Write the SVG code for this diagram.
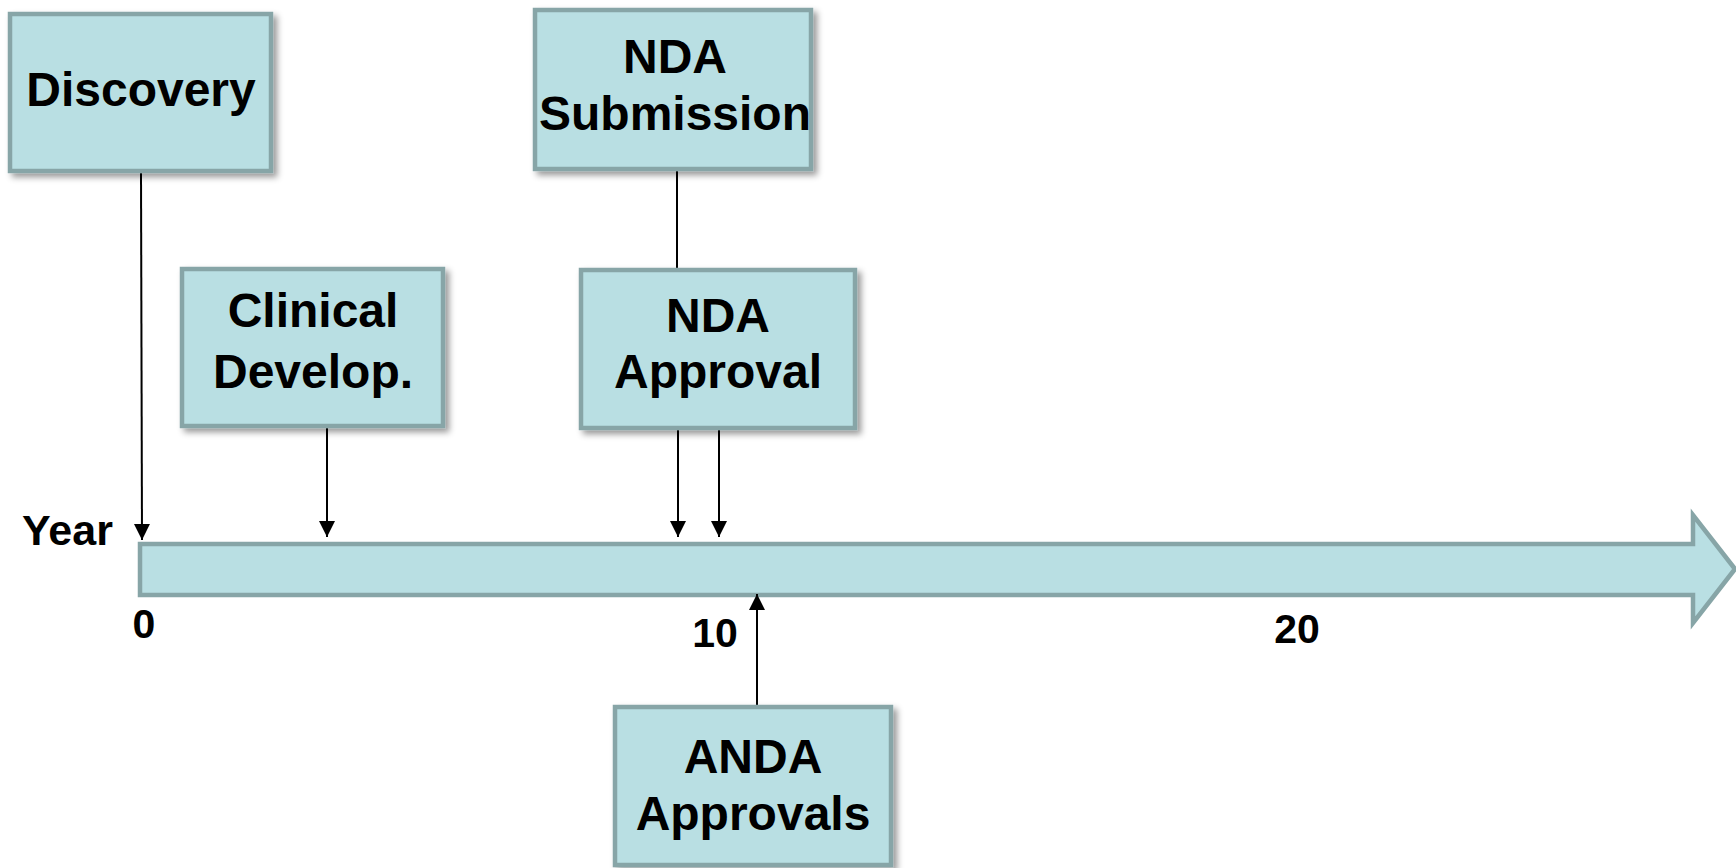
<svg xmlns="http://www.w3.org/2000/svg" width="1736" height="868" viewBox="0 0 1736 868">
<defs>
<style>
.box{fill:#B9DFE3;stroke:#87A5A7;stroke-width:4.5;filter:url(#sh);}
.bar{fill:#B9DFE3;stroke:#87A5A7;stroke-width:4.5;}
.t{font-family:"Liberation Sans",Arial,sans-serif;font-weight:bold;font-size:48px;fill:#000;text-anchor:middle;}
.n{font-family:"Liberation Sans",Arial,sans-serif;font-weight:bold;font-size:41px;fill:#000;}
.c{stroke:#000;stroke-width:2;fill:none;}
</style>
<filter id="sh" x="-10%" y="-10%" width="130%" height="130%">
<feDropShadow dx="4" dy="4" stdDeviation="3" flood-color="#000" flood-opacity="0.4"/>
</filter>
<marker id="ah" markerUnits="userSpaceOnUse" markerWidth="16" markerHeight="16" refX="16" refY="8" orient="auto">
<path d="M0,0 L16,8 L0,16 Z" fill="#000"/>
</marker>
</defs>
<g id="timeline">
<polygon class="bar" points="140,544 1693,544 1693,515 1735,569 1693,623 1693,595 140,595"/>
<text class="n" x="22" y="545" style="font-size:43px">Year</text>
<text class="n" x="144" y="638" text-anchor="middle">0</text>
<text class="n" x="715" y="647" text-anchor="middle">10</text>
<text class="n" x="1297" y="643" text-anchor="middle">20</text>
</g>
<g id="connectors">
<line class="c" x1="141" y1="173" x2="142" y2="540" marker-end="url(#ah)"/>
<line class="c" x1="327" y1="428" x2="327" y2="537" marker-end="url(#ah)"/>
<line class="c" x1="677" y1="171" x2="677" y2="268"/>
<line class="c" x1="678" y1="430" x2="678" y2="537" marker-end="url(#ah)"/>
<line class="c" x1="719" y1="430" x2="719" y2="537" marker-end="url(#ah)"/>
<line class="c" x1="757" y1="705" x2="757" y2="594" marker-end="url(#ah)"/>
</g>
<g id="discovery">
<rect class="box" x="10" y="14" width="261" height="157"/>
<text class="t" x="141" y="106">Discovery</text>
</g>
<g id="nda-submission">
<rect class="box" x="535" y="10" width="276" height="159"/>
<text class="t" x="675" y="73">NDA</text>
<text class="t" x="675" y="130">Submission</text>
</g>
<g id="clinical">
<rect class="box" x="182" y="269" width="261" height="157"/>
<text class="t" x="313" y="327">Clinical</text>
<text class="t" x="313" y="388">Develop.</text>
</g>
<g id="nda-approval">
<rect class="box" x="581" y="270" width="274" height="158"/>
<text class="t" x="718" y="332">NDA</text>
<text class="t" x="718" y="388">Approval</text>
</g>
<g id="anda">
<rect class="box" x="615" y="707" width="276" height="158"/>
<text class="t" x="753" y="773">ANDA</text>
<text class="t" x="753" y="830">Approvals</text>
</g>
</svg>
